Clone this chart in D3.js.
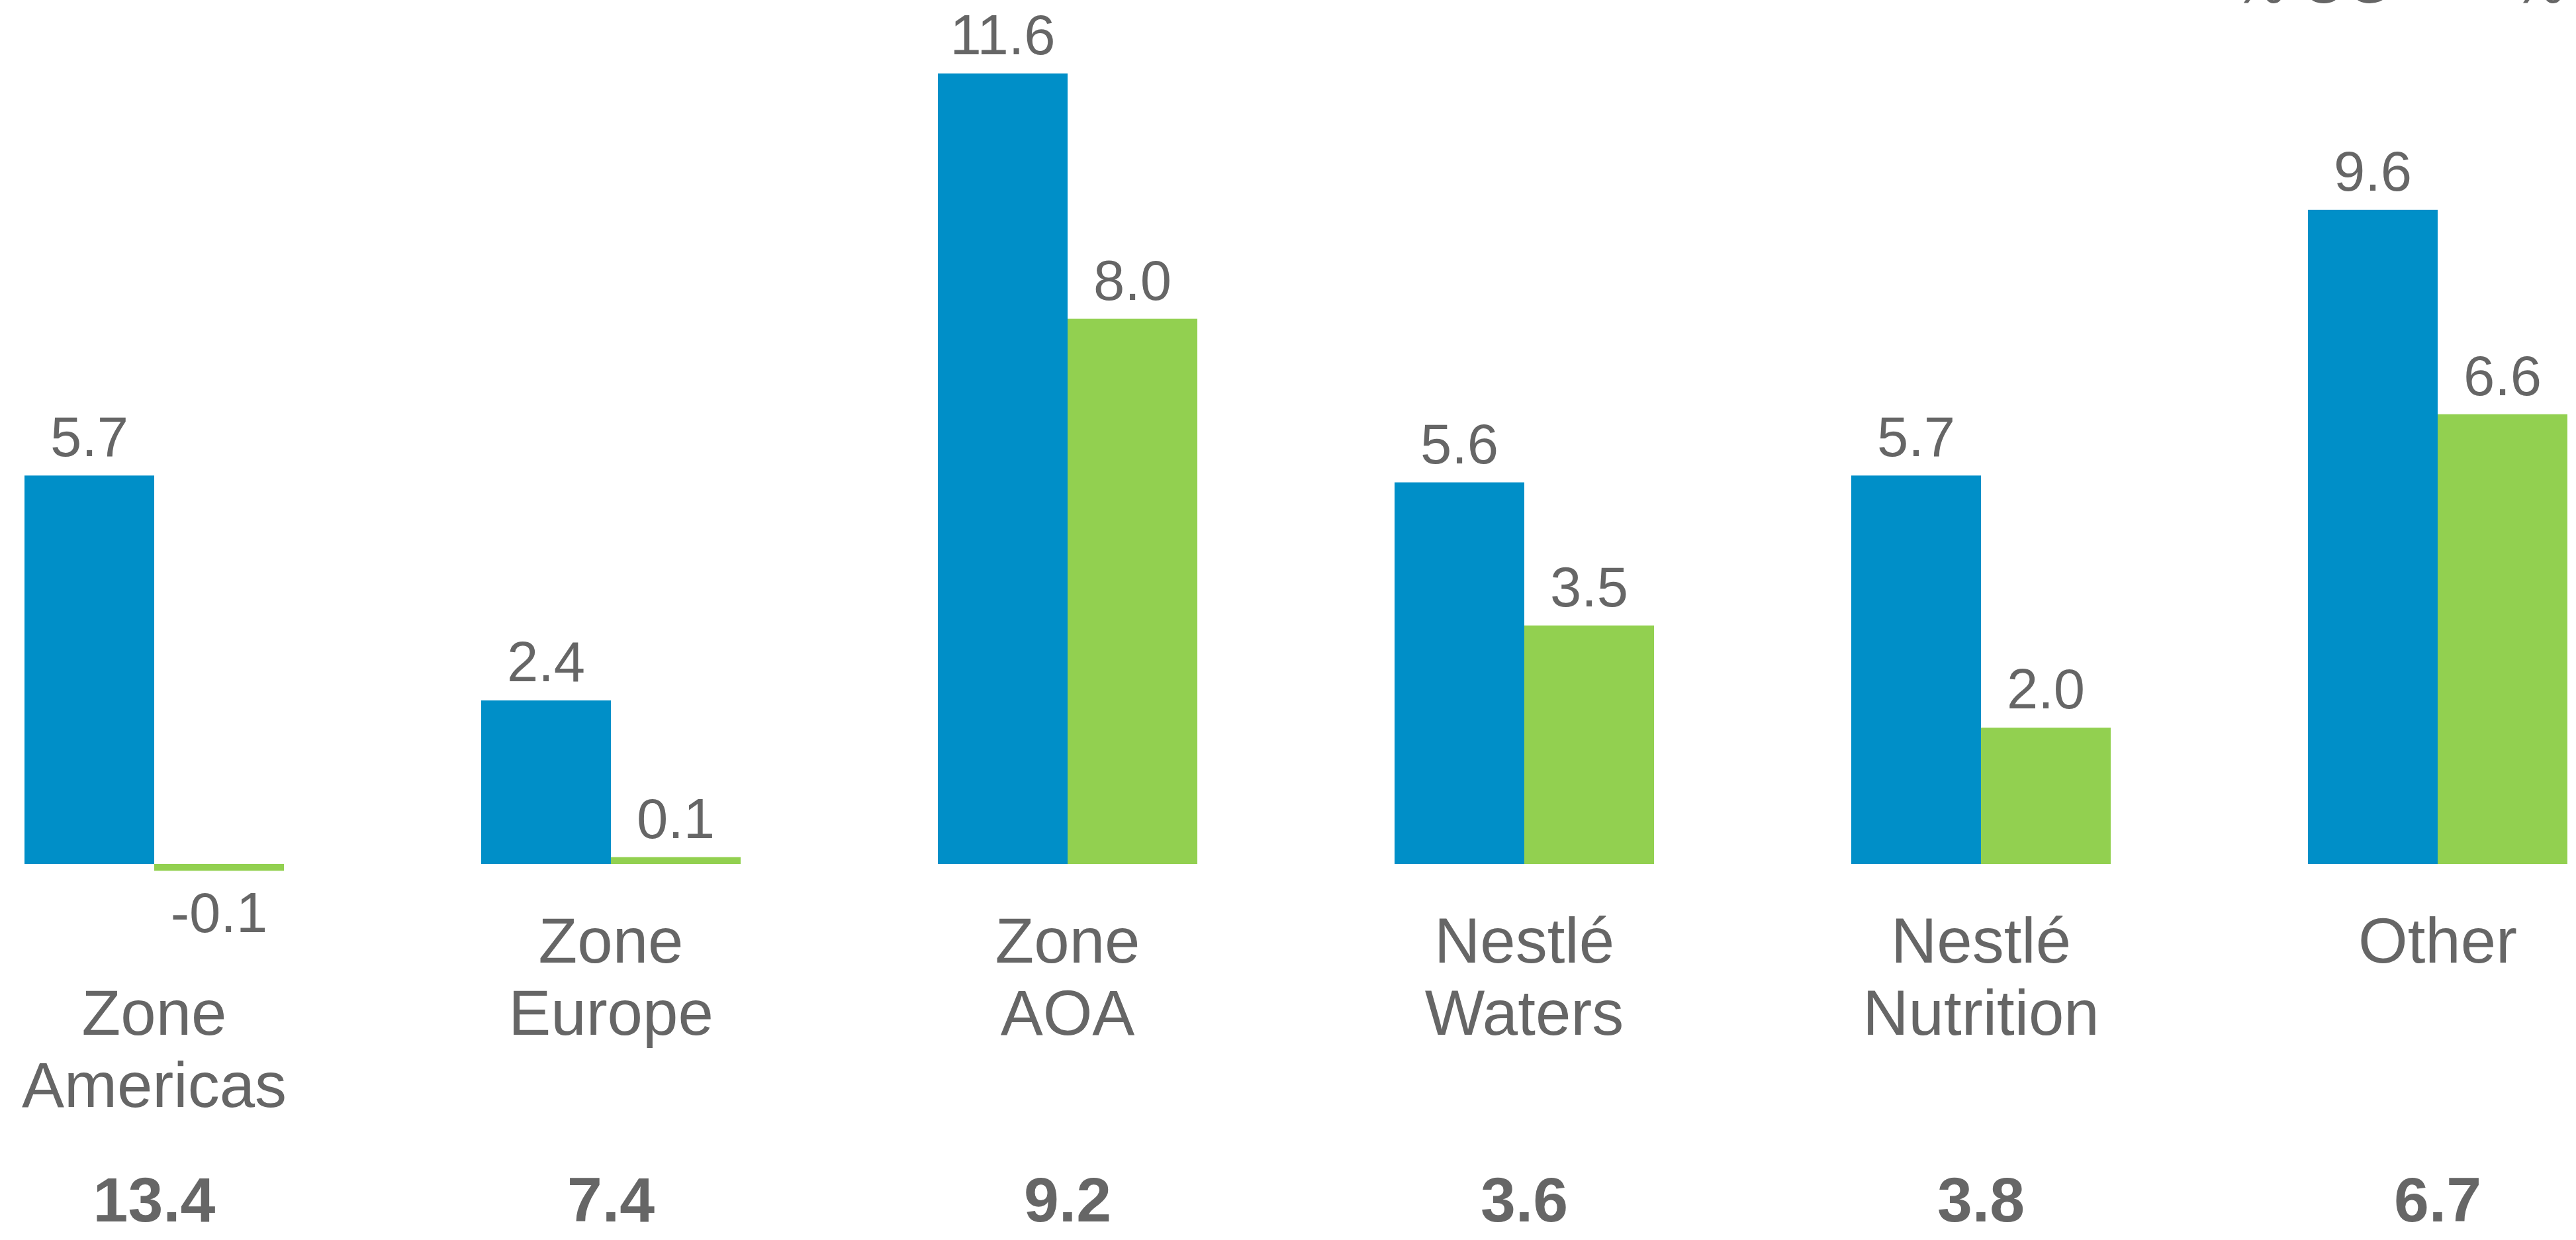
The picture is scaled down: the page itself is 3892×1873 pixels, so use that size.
<!DOCTYPE html>
<html>
<head>
<meta charset="utf-8">
<script src="https://cdn.jsdelivr.net/npm/d3@7"></script>
<style>
  html, body { margin: 0; padding: 0; background: #ffffff; }
  #chart { width: 3892px; height: 1873px; overflow: hidden; }
  text { font-family: 'Liberation Sans', Arial, sans-serif; fill: #666666; }
</style>
</head>
<body>
<div id="chart"></div>
<script>
const categories = ['Zone Americas', 'Zone Europe', 'Zone AOA', 'Nestlé Waters', 'Nestlé Nutrition', 'Other'];
const categoryLines = [['Zone', 'Americas'], ['Zone', 'Europe'], ['Zone', 'AOA'], ['Nestlé', 'Waters'], ['Nestlé', 'Nutrition'], ['Other']];
const organicGrowth = [5.7, 2.4, 11.6, 5.6, 5.7, 9.6];
const realInternalGrowth = [-0.1, 0.1, 8.0, 3.5, 2.0, 6.6];
const totals = ['13.4', '7.4', '9.2', '3.6', '3.8', '6.7'];
const headerLabels = ['% OG', '%'];

const width = 3892;
const height = 1873;
const barWidth = 196;
const blue = '#008fc8';
const green = '#92d050';
const lineHeight = 109;

const svg = d3.select('#chart')
  .append('svg')
  .attr('width', width)
  .attr('height', height);

const x = d3.scalePoint()
  .domain(categories)
  .range([233, 3683]);

const y = d3.scaleLinear()
  .domain([0, 11.6])
  .range([1305, 111]);

const rows = categories.map((c, i) => ({
  category: c,
  lines: categoryLines[i],
  og: organicGrowth[i],
  rig: realInternalGrowth[i],
  total: totals[i]
}));

const bars = [];
rows.forEach(d => {
  bars.push({ category: d.category, value: d.og, offset: -barWidth, color: blue });
  bars.push({ category: d.category, value: d.rig, offset: 0, color: green });
});

svg.append('g')
  .selectAll('rect')
  .data(bars)
  .enter()
  .append('rect')
  .attr('x', d => x(d.category) + d.offset)
  .attr('y', d => y(Math.max(0, d.value)))
  .attr('width', barWidth)
  .attr('height', d => Math.abs(y(d.value) - y(0)))
  .attr('fill', d => d.color);

// value labels above (or below for negatives)
svg.append('g')
  .selectAll('text')
  .data(bars)
  .enter()
  .append('text')
  .attr('x', d => x(d.category) + d.offset + barWidth / 2)
  .attr('y', d => d.value >= 0 ? y(d.value) - 29 : y(d.value) + 93)
  .attr('text-anchor', 'middle')
  .style('font-size', '85px')
  .text(d => d.value.toFixed(1));

// category names, pushed down one line when a label hangs below the axis
const names = svg.append('g')
  .selectAll('text')
  .data(rows)
  .enter()
  .append('text')
  .attr('text-anchor', 'middle')
  .style('font-size', '96px')
  .attr('transform', d => {
    const shift = d.rig < 0 || d.og < 0 ? lineHeight : 0;
    return 'translate(' + x(d.category) + ',' + (1454 + shift) + ')';
  });

names.selectAll('tspan')
  .data(d => d.lines)
  .enter()
  .append('tspan')
  .attr('x', 0)
  .attr('y', (d, i) => i * lineHeight)
  .text(d => d);

svg.append('g')
  .selectAll('text')
  .data(rows)
  .enter()
  .append('text')
  .attr('x', d => x(d.category))
  .attr('y', 1845)
  .attr('text-anchor', 'middle')
  .style('font-size', '95px')
  .style('font-weight', 'bold')
  .text(d => d.total);

// header row, mostly cut off by the top edge
svg.append('g')
  .selectAll('text')
  .data(headerLabels)
  .enter()
  .append('text')
  .attr('x', (d, i) => i === 0 ? 3374 : 3796)
  .attr('y', 4)
  .style('font-size', '88px')
  .text(d => d);
</script>
</body>
</html>
